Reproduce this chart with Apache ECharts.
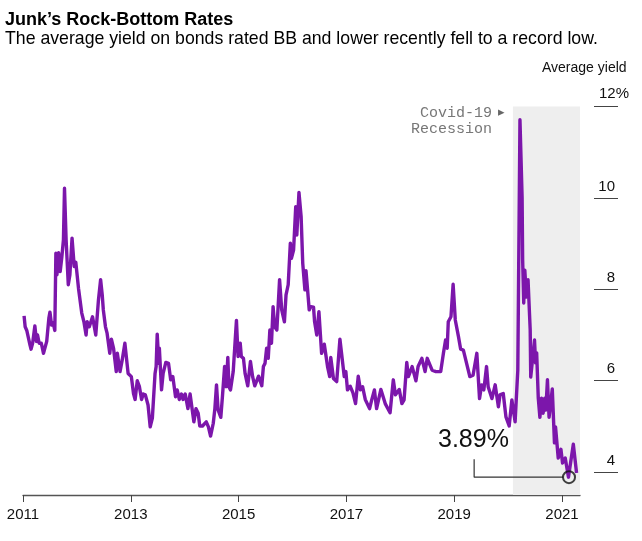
<!DOCTYPE html>
<html>
<head>
<meta charset="utf-8">
<script src="https://cdn.jsdelivr.net/npm/echarts@6/dist/echarts.min.js"></script>
<style>
  html, body { margin: 0; padding: 0; background: #fff; }
  #main { width: 642px; height: 541px; }
</style>
</head>
<body>
<div id="main"></div>
<script>
  // decimal years and average yield (%)
  var yieldDates = [
    2011.02, 2011.04, 2011.07, 2011.13, 2011.15, 2011.18, 2011.22, 2011.25, 2011.27, 2011.30, 2011.34, 2011.38, 2011.40, 2011.44, 2011.48, 2011.50, 2011.53, 2011.56, 2011.59, 2011.61, 2011.63, 2011.66, 2011.69, 2011.72, 2011.75, 2011.77, 2011.80, 2011.84, 2011.87, 2011.91, 2011.95, 2011.98,
    2012.03, 2012.06, 2012.09, 2012.13, 2012.17, 2012.19, 2012.23, 2012.29, 2012.35, 2012.38, 2012.40, 2012.44, 2012.47, 2012.49, 2012.53, 2012.56, 2012.61, 2012.64, 2012.68, 2012.70, 2012.73, 2012.75, 2012.80, 2012.84, 2012.89, 2012.95,
    2013.01, 2013.05, 2013.08, 2013.12, 2013.16, 2013.20, 2013.23, 2013.27, 2013.32, 2013.36, 2013.40, 2013.45, 2013.47, 2013.49, 2013.52, 2013.53, 2013.57, 2013.60, 2013.65, 2013.70, 2013.74, 2013.78, 2013.83, 2013.86, 2013.90, 2013.94, 2013.97,
    2014.01, 2014.06, 2014.10, 2014.17, 2014.21, 2014.25, 2014.28, 2014.33, 2014.40, 2014.44, 2014.48, 2014.53, 2014.56, 2014.59, 2014.62, 2014.67, 2014.70, 2014.74, 2014.77, 2014.80, 2014.82, 2014.85, 2014.90, 2014.93, 2014.96, 2014.99,
    2015.03, 2015.05, 2015.09, 2015.12, 2015.17, 2015.22, 2015.26, 2015.30, 2015.37, 2015.43, 2015.46, 2015.49, 2015.52, 2015.55, 2015.58, 2015.61, 2015.64, 2015.67, 2015.71, 2015.76, 2015.80, 2015.85, 2015.88, 2015.92, 2015.96, 2015.98,
    2016.02, 2016.06, 2016.08, 2016.12, 2016.16, 2016.19, 2016.23, 2016.25, 2016.28, 2016.31, 2016.34, 2016.39, 2016.41, 2016.45, 2016.49, 2016.54, 2016.59, 2016.65, 2016.69, 2016.71, 2016.76, 2016.82, 2016.88, 2016.91, 2016.96, 2016.99,
    2017.02, 2017.07, 2017.12, 2017.17, 2017.22, 2017.26, 2017.30, 2017.35, 2017.43, 2017.47, 2017.52, 2017.56, 2017.64, 2017.72, 2017.81, 2017.87, 2017.91, 2017.98,
    2018.03, 2018.07, 2018.12, 2018.15, 2018.22, 2018.29, 2018.33, 2018.40, 2018.46, 2018.50, 2018.53, 2018.59, 2018.66, 2018.75, 2018.80, 2018.84, 2018.87, 2018.89, 2018.94, 2018.98,
    2019.02, 2019.08, 2019.12, 2019.17, 2019.23, 2019.29, 2019.35, 2019.42, 2019.47, 2019.51, 2019.55, 2019.60, 2019.63, 2019.70, 2019.76, 2019.82, 2019.85, 2019.91, 2019.96,
    2020.02, 2020.07, 2020.13, 2020.18, 2020.22, 2020.26, 2020.27, 2020.29, 2020.31, 2020.34, 2020.37, 2020.41, 2020.42, 2020.49, 2020.51, 2020.53, 2020.56, 2020.59, 2020.62, 2020.65, 2020.68, 2020.70, 2020.73, 2020.76, 2020.82, 2020.86, 2020.88, 2020.93, 2020.98,
    2021.01, 2021.06, 2021.12, 2021.21, 2021.27
  ];
  var yieldValues = [
    7.42, 7.18, 7.10, 6.78, 6.69, 6.83, 7.20, 6.86, 7.00, 6.82, 6.82, 6.60, 6.61, 6.86, 7.37, 7.50, 7.22, 7.27, 7.10, 8.79, 8.32, 8.80, 8.39, 8.70, 9.08, 10.21, 9.08, 8.10, 8.32, 9.12, 8.50, 8.59,
    8.02, 7.99, 7.48, 7.29, 7.00, 7.29, 7.18, 7.40, 7.00, 7.00, 7.77, 8.21, 7.88, 7.55, 7.18, 7.04, 6.60, 6.91, 6.71, 6.67, 6.20, 6.60, 6.20, 6.45, 6.82, 6.16,
    6.09, 5.72, 5.59, 6.00, 5.87, 5.59, 5.71, 5.69, 5.47, 4.99, 5.18, 6.16, 6.31, 7.02, 6.38, 6.71, 5.80, 6.16, 6.40, 6.38, 6.02, 6.09, 5.65, 5.80, 5.59, 5.71, 5.59,
    5.71, 5.39, 5.71, 5.10, 5.39, 5.29, 5.01, 5.01, 5.10, 4.99, 4.79, 5.07, 5.39, 5.91, 5.36, 5.20, 5.65, 6.31, 5.87, 6.51, 5.87, 5.80, 6.20, 6.23, 7.32, 6.53,
    6.82, 6.53, 6.49, 6.16, 5.89, 6.42, 6.09, 5.89, 6.10, 5.89, 6.31, 6.38, 6.71, 6.49, 7.11, 6.82, 7.62, 7.18, 7.11, 8.21, 7.55, 7.29, 7.88, 8.10, 9.01, 8.68,
    8.86, 9.81, 9.19, 10.12, 9.59, 8.57, 7.99, 8.41, 7.99, 7.55, 7.62, 7.61, 7.29, 7.00, 7.51, 6.60, 6.80, 6.31, 6.09, 6.51, 6.05, 5.98, 6.91, 6.60, 6.09, 6.20,
    5.80, 5.88, 5.74, 5.50, 6.10, 5.80, 5.87, 5.59, 5.39, 5.58, 5.80, 5.39, 5.81, 5.50, 5.30, 6.02, 5.69, 5.81,
    5.50, 5.58, 6.40, 6.09, 6.31, 6.00, 6.31, 6.49, 6.20, 6.49, 6.45, 6.23, 6.20, 6.20, 6.60, 6.89, 6.71, 7.29, 7.40, 8.11,
    7.33, 6.96, 6.69, 6.67, 6.38, 6.09, 6.12, 6.60, 5.61, 5.91, 5.80, 6.31, 5.87, 5.61, 5.91, 5.43, 5.69, 5.72, 5.21,
    5.01, 5.58, 5.10, 6.23, 11.71, 10.00, 8.64, 7.70, 8.42, 7.83, 8.21, 7.11, 6.08, 6.89, 6.39, 6.61, 5.62, 5.20, 5.62, 5.29, 5.62, 5.36, 6.02, 5.20, 5.82, 4.64, 4.99, 4.31, 4.50,
    4.20, 4.31, 3.89, 4.61, 3.98
  ];
  var xTickYears = [2011, 2013, 2015, 2017, 2019, 2021];
  var yTickValues = [4, 6, 8, 10, 12];
  var yLabelValues = [4, 6, 8, 10];
  var recessionRange = [2020.09, 2021.334];
  var leaderDates = [2019.37, 2019.37, 2021.02];
  var leaderValues = [4.28, 3.89, 3.89];
  var lowPoint = [2021.13, 3.89];

  var sans = '"Liberation Sans", Arial, sans-serif';
  var mono = '"Liberation Mono", monospace';

  function zip(a, b) {
    return a.map(function (v, i) { return [v, b[i]]; });
  }

  var myChart = echarts.init(document.getElementById('main'));
  var option = {
    animation: false,
    backgroundColor: '#fff',
    textStyle: { fontFamily: sans },
    title: [{
      text: 'Junk’s Rock-Bottom Rates',
      left: 0, top: 6,
      textStyle: { fontFamily: sans, fontSize: 18, fontWeight: 'bold', color: '#000' }
    }, {
      text: 'The average yield on bonds rated BB and lower recently fell to a record low.',
      left: 0, top: 25,
      textStyle: { fontFamily: sans, fontSize: 17.7, fontWeight: 'normal', color: '#000' }
    }],
    grid: { left: 23, right: 62, top: 106.5, bottom: 46 },
    xAxis: {
      type: 'value',
      min: 2011,
      max: 2021.334,
      splitLine: { show: false },
      axisLine: { lineStyle: { color: '#555', width: 1.3 } },
      axisTick: { customValues: xTickYears, length: 7, lineStyle: { color: '#444' } },
      axisLabel: {
        customValues: xTickYears,
        margin: 12,
        fontFamily: sans, fontSize: 15, color: '#111',
        formatter: function (v) { return String(v); }
      }
    },
    yAxis: {
      type: 'value',
      position: 'right',
      offset: 38,
      min: 3.5,
      max: 12,
      splitLine: { show: false },
      axisLine: { show: false },
      axisTick: { customValues: yTickValues, inside: true, length: 24, lineStyle: { color: '#444' } },
      axisLabel: {
        customValues: yLabelValues,
        inside: true,
        margin: 3,
        verticalAlign: 'bottom',
        padding: [0, 0, 4, 0],
        fontFamily: sans, fontSize: 15, color: '#111'
      }
    },
    graphic: [
      { type: 'text', left: 542, top: 61, style: { text: 'Average yield', font: '14px ' + sans, fill: '#111' } },
      { type: 'text', left: 599, top: 86, style: { text: '12%', font: '15px ' + sans, fill: '#111' } },
      { type: 'text', left: 420, top: 106, style: { text: 'Covid-19', font: '15px ' + mono, fill: '#777' } },
      { type: 'text', left: 411, top: 122, style: { text: 'Recession', font: '15px ' + mono, fill: '#777' } },
      { type: 'text', left: 498, top: 106, style: { text: '▸', font: '13px "DejaVu Sans"', fill: '#666' } },
      { type: 'text', left: 438, top: 428, style: { text: '3.89%', font: '25px ' + sans, fill: '#111' } }
    ],
    series: [{
      name: 'Average yield',
      type: 'line',
      data: zip(yieldDates, yieldValues),
      showSymbol: false,
      smooth: false,
      lineStyle: { color: '#7c16ab', width: 3.4, join: 'round' },
      markArea: {
        silent: true,
        itemStyle: { color: '#eeeeee' },
        data: [[{ coord: [recessionRange[0], 3.5] }, { coord: [recessionRange[1], 12] }]]
      },
      z: 3
    }, {
      name: 'leader',
      type: 'line',
      data: zip(leaderDates, leaderValues),
      showSymbol: false,
      lineStyle: { color: '#333', width: 1.2 },
      z: 4
    }, {
      name: 'low',
      type: 'scatter',
      data: [lowPoint],
      symbol: 'circle',
      symbolSize: 12,
      itemStyle: { color: 'rgba(0,0,0,0)', borderColor: '#111', borderWidth: 2 },
      z: 5
    }]
  };
  myChart.setOption(option);
</script>
</body>
</html>
